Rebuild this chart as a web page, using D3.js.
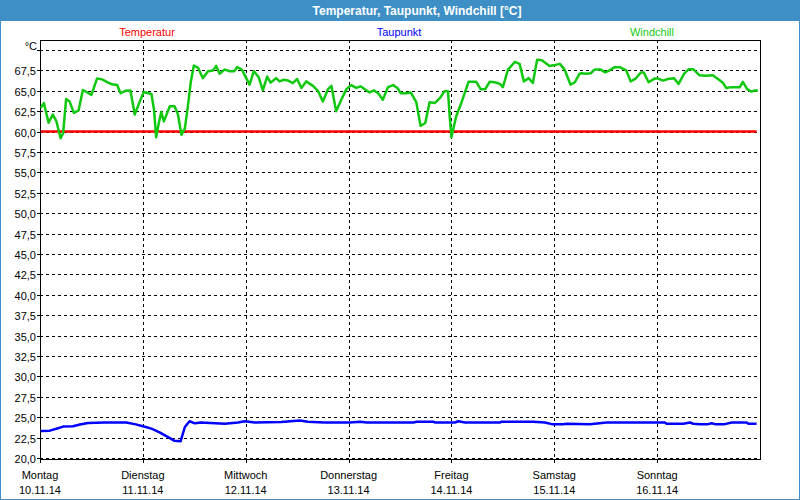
<!DOCTYPE html>
<html>
<head>
<meta charset="utf-8">
<script src="https://cdn.jsdelivr.net/npm/d3@7"></script>
<style>
  html, body { margin: 0; padding: 0; background: #fff; }
  svg { display: block; }
  text { font-family: "Liberation Sans", Arial, sans-serif; }
</style>
</head>
<body>
<svg id="chart" width="800" height="500"></svg>
<script>
// ---------- data ----------
const title = "Temperatur, Taupunkt, Windchill [°C]";
const seriesNames = ["Temperatur", "Taupunkt", "Windchill"];
const dayNames = ["Montag", "Dienstag", "Mittwoch", "Donnerstag", "Freitag", "Samstag", "Sonntag"];
const dayDates = ["10.11.14", "11.11.14", "12.11.14", "13.11.14", "14.11.14", "15.11.14", "16.11.14"];
const yTicks = [20, 22.5, 25, 27.5, 30, 32.5, 35, 37.5, 40, 42.5, 45, 47.5, 50, 52.5, 55, 57.5, 60, 62.5, 65, 67.5, 70];

// hours since Monday 10.11.14 00:00
const tempHours = [0.2, 167.2];
const tempValues = [60.0, 60.0];

const dewHours = [0.2, 2.3, 4.2, 5.4, 7.7, 9.3, 11.2, 15.1, 20.1, 22.1, 24.0, 26.0, 27.9, 29.9, 31.4, 32.8, 33.8, 34.9, 36.1, 37.6, 43.1, 46.2, 47.8, 50.1, 56.3, 60.6, 62.5, 66.4, 72.3, 74.7, 76.2, 87.1, 87.9, 91.8, 92.2, 96.8, 97.6, 99.2, 107.3, 107.7, 115.1, 117.8, 119.4, 122.1, 122.9, 128.3, 132.2, 145.8, 146.2, 150.1, 151.7, 152.4, 154.0, 155.9, 156.7, 157.5, 159.8, 161.4, 164.9, 165.3, 167.2];
const dewValues = [23.3, 23.35, 23.65, 23.85, 23.9, 24.1, 24.3, 24.35, 24.35, 24.15, 23.9, 23.6, 23.15, 22.55, 22.1, 22.05, 23.8, 24.5, 24.25, 24.35, 24.2, 24.35, 24.5, 24.35, 24.4, 24.6, 24.45, 24.35, 24.35, 24.45, 24.35, 24.35, 24.45, 24.45, 24.35, 24.35, 24.5, 24.35, 24.35, 24.45, 24.45, 24.35, 24.15, 24.15, 24.2, 24.15, 24.35, 24.35, 24.2, 24.2, 24.35, 24.2, 24.15, 24.15, 24.25, 24.15, 24.15, 24.35, 24.35, 24.2, 24.2];

const chillHours = [0.2, 0.9, 2.0, 3.0, 3.8, 4.8, 5.4, 6.1, 6.9, 7.9, 9.0, 10.0, 11.0, 12.0, 13.3, 14.5, 15.9, 16.8, 18.0, 18.8, 19.9, 21.1, 22.1, 23.3, 24.2, 26.0, 26.6, 27.1, 27.7, 28.3, 28.9, 30.3, 31.4, 32.2, 33.0, 33.8, 34.5, 35.2, 35.9, 36.9, 38.0, 39.2, 40.4, 41.1, 41.9, 43.1, 44.3, 45.3, 46.0, 47.1, 48.9, 49.9, 51.0, 52.0, 53.0, 53.8, 55.1, 55.9, 56.9, 57.9, 59.0, 60.0, 61.0, 62.1, 63.7, 64.9, 66.0, 67.2, 68.0, 69.1, 70.3, 71.5, 72.6, 73.8, 74.8, 75.8, 76.9, 77.9, 78.9, 80.0, 81.2, 82.4, 83.4, 84.2, 85.5, 86.5, 87.8, 88.8, 89.9, 90.9, 92.1, 93.3, 94.4, 95.2, 95.6, 96.0, 97.1, 98.3, 100.0, 101.8, 102.8, 103.9, 104.9, 106.1, 107.3, 108.0, 109.2, 110.8, 111.9, 112.9, 114.0, 115.0, 116.0, 117.1, 118.9, 120.1, 121.3, 122.4, 123.8, 124.8, 125.9, 126.3, 127.5, 128.5, 129.4, 130.8, 131.9, 132.9, 134.1, 135.3, 136.8, 137.8, 138.9, 140.2, 140.9, 142.0, 143.4, 144.2, 145.4, 146.5, 147.9, 149.0, 150.3, 151.4, 152.4, 153.9, 155.5, 157.0, 158.2, 159.4, 160.1, 161.3, 163.3, 164.0, 165.0, 166.0, 166.8, 167.5];
const chillValues = [62.9, 63.5, 61.1, 62.1, 61.3, 59.2, 59.8, 64.0, 63.7, 62.3, 62.6, 65.1, 64.8, 64.5, 66.5, 66.4, 66.0, 65.8, 65.7, 64.7, 65.0, 65.05, 62.1, 63.7, 64.85, 64.6, 62.7, 59.3, 61.0, 62.4, 61.25, 63.1, 63.1, 62.1, 59.6, 60.4, 63.1, 66.15, 68.1, 67.8, 66.55, 67.4, 67.5, 68.05, 67.1, 67.6, 67.4, 67.4, 67.9, 67.6, 65.75, 67.4, 66.7, 65.05, 66.75, 66.0, 66.55, 66.15, 66.35, 66.25, 65.95, 66.45, 65.35, 66.15, 65.6, 64.95, 63.7, 65.2, 65.6, 62.5, 63.9, 65.2, 65.7, 65.35, 65.55, 65.2, 64.8, 65.05, 64.7, 63.9, 65.45, 65.7, 65.35, 64.7, 64.7, 64.8, 63.6, 60.7, 61.05, 63.6, 63.5, 64.1, 64.95, 64.95, 61.85, 59.3, 61.85, 63.5, 66.1, 66.1, 65.2, 65.2, 66.1, 66.05, 65.85, 65.45, 67.6, 68.55, 68.3, 66.15, 66.55, 65.95, 68.8, 68.75, 68.05, 68.15, 68.3, 67.6, 65.75, 66.05, 67.1, 67.15, 67.1, 67.15, 67.6, 67.6, 67.25, 67.5, 67.9, 67.9, 67.5, 66.15, 66.45, 67.25, 67.25, 66.05, 66.5, 66.5, 66.25, 66.45, 66.55, 65.85, 67.1, 67.65, 67.65, 66.9, 66.85, 66.9, 66.45, 65.95, 65.35, 65.45, 65.45, 66.1, 65.2, 64.9, 65.05, 65.05];

// ---------- drawing ----------
const svg = d3.select("#chart");
const W = 800, H = 500;
const plot = { left: 40, right: 760, top: 40, bottom: 460 };
const colors = { Temperatur: "#ff0000", Taupunkt: "#0000ff", Windchill: "#11c811" };
const frameBlue = "#3d8fc6";

// background + frame
svg.append("rect").attr("x", 0).attr("y", 0).attr("width", W).attr("height", H).attr("fill", "#ffffff");
svg.append("rect").attr("x", 0.5).attr("y", 0.5).attr("width", W - 1).attr("height", H - 1)
  .attr("fill", "none").attr("stroke", frameBlue).attr("stroke-width", 1);
svg.append("rect").attr("x", 0).attr("y", 0).attr("width", W).attr("height", 21).attr("fill", frameBlue);
svg.append("text").attr("x", 417).attr("y", 14.5).attr("text-anchor", "middle")
  .attr("fill", "#ffffff").attr("font-size", "12px").attr("font-weight", "bold").text(title);

const x = d3.scaleLinear().domain([0, 168]).range([plot.left, plot.right]);
const y = d3.scaleLinear().domain([20, 70]).range([458, 50]);

// horizontal grid
const g = svg.append("g");
g.selectAll("line.hgrid").data(yTicks).join("line")
  .attr("x1", plot.left).attr("x2", plot.right)
  .attr("y1", d => Math.round(y(d)) + 0.5).attr("y2", d => Math.round(y(d)) + 0.5)
  .attr("stroke", "#000").attr("stroke-width", 1).attr("stroke-dasharray", "3,3");
// y ticks
g.selectAll("line.ytick").data(yTicks).join("line")
  .attr("x1", plot.left - 3).attr("x2", plot.left)
  .attr("y1", d => Math.round(y(d)) + 0.5).attr("y2", d => Math.round(y(d)) + 0.5)
  .attr("stroke", "#000");
g.selectAll("text.ylab").data(yTicks.filter(d => d < 70)).join("text")
  .attr("x", 36).attr("y", d => Math.round(y(d)) + 4.5)
  .attr("text-anchor", "end").attr("font-size", "11px").attr("fill", "#000")
  .text(d => d.toFixed(1).replace(".", ","));
svg.append("text").attr("x", 37).attr("y", 50).attr("text-anchor", "end")
  .attr("font-size", "11px").attr("fill", "#000").text("°C");

// vertical grid at day boundaries
const dayHours = dayNames.map((d, i) => i * 24);
g.selectAll("line.vgrid").data(dayHours.slice(1)).join("line")
  .attr("x1", d => Math.round(x(d)) + 0.5).attr("x2", d => Math.round(x(d)) + 0.5)
  .attr("y1", plot.top).attr("y2", plot.bottom)
  .attr("stroke", "#000").attr("stroke-dasharray", "3,3");
g.selectAll("line.xtick").data(dayHours).join("line")
  .attr("x1", d => Math.round(x(d)) + 0.5).attr("x2", d => Math.round(x(d)) + 0.5)
  .attr("y1", plot.bottom).attr("y2", plot.bottom + 3)
  .attr("stroke", "#000");
g.selectAll("text.xday").data(dayNames).join("text")
  .attr("x", (d, i) => x(dayHours[i]) ).attr("y", 479)
  .attr("text-anchor", "middle").attr("font-size", "11px").attr("fill", "#000").text(d => d);
g.selectAll("text.xdate").data(dayDates).join("text")
  .attr("x", (d, i) => x(dayHours[i]) ).attr("y", 494)
  .attr("text-anchor", "middle").attr("font-size", "11px").attr("fill", "#000").text(d => d);

// plot frame
svg.append("rect").attr("x", plot.left + 0.5).attr("y", plot.top + 0.5)
  .attr("width", plot.right - plot.left).attr("height", plot.bottom - plot.top - 1)
  .attr("fill", "none").attr("stroke", "#000").attr("stroke-width", 1);

// legend
const legendX = [147, 399, 652];
svg.selectAll("text.legend").data(seriesNames).join("text")
  .attr("x", (d, i) => legendX[i]).attr("y", 36)
  .attr("text-anchor", "middle").attr("font-size", "11px")
  .attr("fill", d => colors[d]).text(d => d);

// series
const line = d3.line().x(d => x(d[0])).y(d => y(d[1]));
const zip = (a, b) => a.map((v, i) => [v, b[i]]);
const series = [
  { name: "Temperatur", pts: zip(tempHours, tempValues) },
  { name: "Taupunkt", pts: zip(dewHours, dewValues) },
  { name: "Windchill", pts: zip(chillHours, chillValues) }
];
svg.selectAll("path.series").data(series).join("path")
  .attr("d", d => line(d.pts))
  .attr("fill", "none").attr("stroke", d => colors[d.name])
  .attr("stroke-width", 2.5).attr("stroke-linejoin", "round");
</script>
</body>
</html>
